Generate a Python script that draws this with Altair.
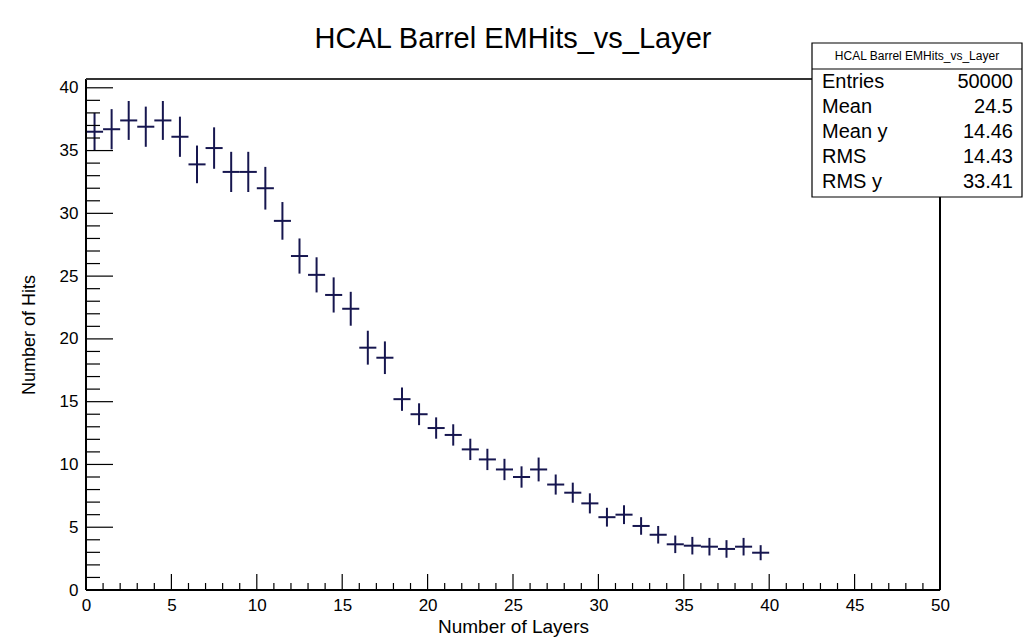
import altair as alt
import pandas as pd

# ---- data ----
layer_centers = [i + 0.5 for i in range(40)]
mean_hits = [36.5, 36.7, 37.4, 36.9, 37.4, 36.1, 33.9, 35.2, 33.3, 33.3,
             32.0, 29.4, 26.6, 25.1, 23.5, 22.4, 19.3, 18.5, 15.2, 14.0,
             12.9, 12.35, 11.2, 10.4, 9.6, 9.0, 9.6, 8.4, 7.75, 6.9,
             5.8, 6.0, 5.1, 4.4, 3.64, 3.53, 3.45, 3.27, 3.45, 2.97]
hit_errors = [1.5, 1.6, 1.55, 1.6, 1.55, 1.6, 1.5, 1.65, 1.6, 1.6,
              1.7, 1.5, 1.4, 1.4, 1.4, 1.35, 1.35, 1.3, 0.93, 0.87,
              0.85, 0.85, 0.85, 0.85, 0.85, 0.85, 0.95, 0.8, 0.8, 0.8,
              0.75, 0.75, 0.7, 0.7, 0.7, 0.7, 0.7, 0.7, 0.7, 0.6]
bin_half_width = 0.5

x_major = list(range(0, 51, 5))
x_minor = [v for v in range(0, 51) if v % 5 != 0]
y_major = list(range(0, 41, 5))
y_minor = [v for v in range(0, 41) if v % 5 != 0]

stat_names = ["Entries", "Mean", "Mean y", "RMS", "RMS y"]
stat_values = ["50000", "24.5", "14.46", "14.43", "33.41"]
title_text = "HCAL Barrel EMHits_vs_Layer"

W, H = 854, 511
FONT = "Liberation Sans"
COL = "#16164f"

df = pd.DataFrame({"x": layer_centers, "y": mean_hits, "e": hit_errors})

xs = alt.Scale(domain=[0, 50], nice=False, zero=False)
ys = alt.Scale(domain=[0, 40.7], nice=False, zero=False)

base = alt.Chart(df).transform_calculate(
    lo="datum.y - datum.e", hi="datum.y + datum.e",
    xl=f"datum.x - {bin_half_width}", xr=f"datum.x + {bin_half_width}")

xaxis = alt.Axis(values=x_major, ticks=False, tickSize=0, domain=False, grid=False,
                 labelFontSize=17, labelFont=FONT, labelColor="black", labelPadding=7,
                 labelFlush=False, title="Number of Layers", titleFont=FONT,
                 titleFontSize=19, titleFontWeight="normal", titleColor="black",
                 titleX=W / 2, titleY=36, titleBaseline="middle")
yaxis = alt.Axis(values=y_major, ticks=False, tickSize=0, domain=False, grid=False,
                 labelFontSize=17, labelFont=FONT, labelColor="black", labelPadding=8,
                 title="Number of Hits", titleFont=FONT, titleFontSize=18,
                 titleFontWeight="normal", titleColor="black", titleAngle=-90,
                 titleX=-57, titleY=H / 2, titleBaseline="middle", titleAlign="center")

vbars = base.mark_rule(color=COL, strokeWidth=2).encode(
    x=alt.X("x:Q", scale=xs, axis=xaxis),
    y=alt.Y("lo:Q", scale=ys, axis=yaxis),
    y2="hi:Q")
hbars = base.mark_rule(color=COL, strokeWidth=2).encode(
    x=alt.X("xl:Q", scale=xs), x2="xr:Q", y=alt.Y("y:Q", scale=ys))

def xticks(vals, length):
    return alt.Chart(pd.DataFrame({"t": vals})).mark_rule(color="black", strokeWidth=1.2).encode(
        x=alt.X("t:Q", scale=xs), y=alt.value(H), y2=alt.value(H - length))

def yticks(vals, length):
    return alt.Chart(pd.DataFrame({"t": vals})).mark_rule(color="black", strokeWidth=1.2).encode(
        y=alt.Y("t:Q", scale=ys), x=alt.value(0), x2=alt.value(length))

one = pd.DataFrame({"a": [0]})
frame_left = alt.Chart(one).mark_rule(color="black", strokeWidth=2).encode(
    x=alt.value(0), y=alt.value(0), y2=alt.value(H))
frame_bottom = alt.Chart(one).mark_rule(color="black", strokeWidth=2).encode(
    x=alt.value(0), x2=alt.value(W), y=alt.value(H))
frame_top = alt.Chart(one).mark_rule(color="#333333", strokeWidth=2).encode(
    x=alt.value(0), x2=alt.value(W), y=alt.value(0))
frame_right = alt.Chart(one).mark_rule(color="black", strokeWidth=2).encode(
    x=alt.value(W), y=alt.value(0), y2=alt.value(H))

# stats box
bx0, bx1, by0, by1 = 726, 936, -36, 118
box = alt.Chart(one).mark_rect(fill="white", stroke="black", strokeWidth=1.2).encode(
    x=alt.value(bx0), x2=alt.value(bx1), y=alt.value(by0), y2=alt.value(by1))
sep = alt.Chart(one).mark_rule(color="black", strokeWidth=1.2).encode(
    x=alt.value(bx0), x2=alt.value(bx1), y=alt.value(-10))
header = alt.Chart(one).mark_text(text=title_text, font=FONT, fontSize=12, color="black",
                                  align="center", baseline="middle").encode(
    x=alt.value((bx0 + bx1) / 2), y=alt.value(-23))
stat_layers = []
for i, (n, v) in enumerate(zip(stat_names, stat_values)):
    yy = 3 + 25 * i
    stat_layers.append(alt.Chart(one).mark_text(text=n, font=FONT, fontSize=20, color="black",
                                                align="left", baseline="middle").encode(
        x=alt.value(bx0 + 10), y=alt.value(yy)))
    stat_layers.append(alt.Chart(one).mark_text(text=v, font=FONT, fontSize=20, color="black",
                                                align="right", baseline="middle").encode(
        x=alt.value(bx1 - 9), y=alt.value(yy)))

chart = alt.layer(
    vbars, hbars,
    xticks(x_major, 16), xticks(x_minor, 7),
    yticks(y_major, 27), yticks(y_minor, 14),
    frame_left, frame_bottom, frame_top, frame_right,
    box, sep, header, *stat_layers
).properties(
    width=W, height=H,
    title=alt.TitleParams(title_text, font=FONT, fontSize=29, fontWeight="normal",
                          color="black", anchor="middle", offset=-12),
    padding={"left": 86, "top": 79, "right": 83, "bottom": 48},
    autosize=alt.AutoSizeParams(type="none"),
).configure_view(stroke=None).configure(background="white")

chart.save("out.html", embed_options={"renderer": "svg", "actions": False})
